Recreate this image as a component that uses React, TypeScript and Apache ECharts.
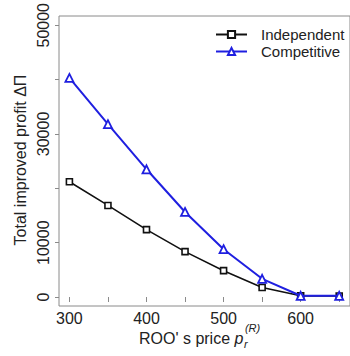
import React, { useEffect, useRef } from "react";
import * as echarts from "echarts";

const prices = [300, 350, 400, 450, 500, 550, 600, 650];
const independent = [21200, 16850, 12400, 8350, 4850, 1750, 220, 200];
const competitive = [40300, 31800, 23500, 15650, 8800, 3350, 230, 220];
const xTickValues = [300, 350, 400, 450, 500, 550, 600, 650];
const xLabelValues = [300, 400, 500, 600];
const yTickValues = [0, 10000, 20000, 30000, 40000, 50000];
const yLabelValues = [0, 10000, 30000, 50000];

const FONT = "'Liberation Sans', Arial, Helvetica, sans-serif";

function measure(text: string, font: string): number {
  const c = document.createElement("canvas").getContext("2d");
  if (!c) return text.length * 8;
  c.font = font;
  return c.measureText(text).width;
}

export default function App() {
  const ref = useRef<HTMLDivElement>(null);
  useEffect(() => {
    document.body.style.margin = "0";
    if (!ref.current) return;
    const chart = echarts.init(ref.current, undefined, { renderer: "svg" });

    const titleMain = "ROO' s price ";
    const x0 = 139;
    const w1 = measure(titleMain, `16px ${FONT}`);
    const wp = measure("p", `italic 16px ${FONT}`);
    const titleY = 338;

    chart.setOption({
      animation: false,
      backgroundColor: "#ffffff",
      grid: {
        left: 59,
        top: 15,
        width: 293,
        height: 291,
        show: true,
        borderColor: "#8a8a8a",
        borderWidth: 1,
        containLabel: false,
      },
      xAxis: {
        type: "value",
        min: 286.5,
        max: 664,
        axisLine: { show: false },
        splitLine: { show: false },
        axisTick: {
          show: true,
          customValues: xTickValues,
          length: 5,
          inside: false,
          lineStyle: { color: "#8a8a8a", width: 1 },
        },
        axisLabel: {
          show: true,
          customValues: xLabelValues,
          margin: 4,
          fontSize: 16,
          fontFamily: FONT,
          color: "#222",
          formatter: (v: number) => String(v),
        },
      },
      yAxis: {
        type: "value",
        min: -1650,
        max: 51700,
        axisLine: { show: false },
        splitLine: { show: false },
        axisTick: {
          show: true,
          customValues: yTickValues,
          length: 4,
          inside: false,
          lineStyle: { color: "#8a8a8a", width: 1 },
        },
        axisLabel: {
          show: true,
          customValues: yLabelValues,
          rotate: 90,
          align: "center",
          verticalAlign: "bottom",
          margin: 8,
          fontSize: 16,
          fontFamily: FONT,
          color: "#222",
          formatter: (v: number) => String(v),
        },
      },
      legend: {
        orient: "vertical",
        left: 215,
        top: 27,
        padding: 0,
        itemWidth: 31,
        itemHeight: 9,
        itemGap: 2,
        data: ["Independent", "Competitive"],
        textStyle: {
          fontSize: 15,
          fontFamily: FONT,
          color: "#222",
          padding: [0, 0, 0, 9],
        },
      },
      series: [
        {
          name: "Independent",
          type: "line",
          data: prices.map((p, i) => [p, independent[i]]),
          symbol: "rect",
          symbolSize: 6,
          showSymbol: true,
          lineStyle: { color: "#111", width: 1.6 },
          itemStyle: { color: "#fff", borderColor: "#111", borderWidth: 1.6 },
          z: 2,
        },
        {
          name: "Competitive",
          type: "line",
          data: prices.map((p, i) => [p, competitive[i]]),
          symbol: "triangle",
          symbolSize: 8,
          showSymbol: true,
          lineStyle: { color: "#1f1fe0", width: 2 },
          itemStyle: { color: "#fff", borderColor: "#1f1fe0", borderWidth: 1.8 },
          z: 3,
        },
      ],
      graphic: [
        {
          type: "text",
          x: 20,
          y: 160,
          rotation: Math.PI / 2,
          style: {
            text: "Total improved profit ΔΠ",
            font: `16px ${FONT}`,
            fill: "#222",
            align: "center",
            verticalAlign: "middle",
          },
        },
        {
          type: "text",
          x: x0,
          y: titleY,
          style: {
            text: titleMain,
            font: `16px ${FONT}`,
            fill: "#222",
            align: "left",
            verticalAlign: "middle",
          },
        },
        {
          type: "text",
          x: x0 + w1,
          y: titleY,
          style: {
            text: "p",
            font: `italic 16px ${FONT}`,
            fill: "#222",
            align: "left",
            verticalAlign: "middle",
          },
        },
        {
          type: "text",
          x: x0 + w1 + wp + 0.5,
          y: titleY + 6,
          style: {
            text: "r",
            font: `italic 11px ${FONT}`,
            fill: "#222",
            align: "left",
            verticalAlign: "middle",
          },
        },
        {
          type: "text",
          x: x0 + w1 + wp + 1.5,
          y: titleY - 10,
          style: {
            text: "(R)",
            font: `italic 11px ${FONT}`,
            fill: "#222",
            align: "left",
            verticalAlign: "middle",
          },
        },
      ],
    });
    return () => chart.dispose();
  }, []);
  return <div ref={ref} style={{ width: 350, height: 356 }} />;
}
